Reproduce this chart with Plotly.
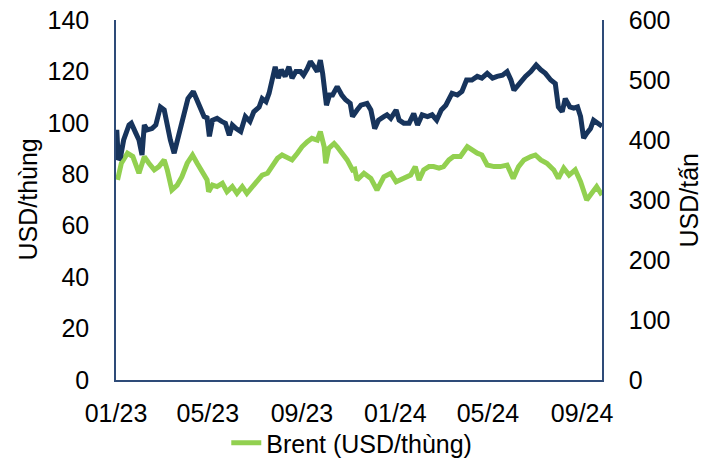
import plotly.graph_objects as go

# Right-axis series (USD/tấn)
navy_dates = [
    "2023-01-02", "2023-01-04", "2023-01-07", "2023-01-11", "2023-01-18", "2023-01-21", "2023-01-27", "2023-01-31",
    "2023-02-04", "2023-02-07", "2023-02-11", "2023-02-17", "2023-02-22", "2023-02-28", "2023-03-05", "2023-03-09",
    "2023-03-13", "2023-03-18", "2023-03-22", "2023-03-27", "2023-03-31", "2023-04-05", "2023-04-12", "2023-04-17",
    "2023-04-22", "2023-04-26", "2023-04-30", "2023-05-03", "2023-05-07", "2023-05-13", "2023-05-19", "2023-05-24",
    "2023-05-29", "2023-06-02", "2023-06-07", "2023-06-13", "2023-06-19", "2023-06-25", "2023-06-30", "2023-07-07",
    "2023-07-11", "2023-07-16", "2023-07-20", "2023-07-24", "2023-07-28", "2023-08-01", "2023-08-05", "2023-08-10",
    "2023-08-15", "2023-08-19", "2023-08-24", "2023-08-30", "2023-09-03", "2023-09-08", "2023-09-12", "2023-09-17",
    "2023-09-21", "2023-09-25", "2023-09-28", "2023-10-03", "2023-10-07", "2023-10-11", "2023-10-17", "2023-10-23",
    "2023-10-28", "2023-11-03", "2023-11-06", "2023-11-12", "2023-11-17", "2023-11-25", "2023-11-30", "2023-12-05",
    "2023-12-10", "2023-12-17", "2023-12-21", "2023-12-26", "2024-01-02", "2024-01-06", "2024-01-12", "2024-01-19",
    "2024-01-25", "2024-01-30", "2024-02-05", "2024-02-12", "2024-02-18", "2024-02-24", "2024-03-01", "2024-03-07",
    "2024-03-11", "2024-03-15", "2024-03-22", "2024-03-28", "2024-04-03", "2024-04-10", "2024-04-17", "2024-04-23",
    "2024-04-30", "2024-05-07", "2024-05-13", "2024-05-20", "2024-05-26", "2024-05-31", "2024-06-04", "2024-06-08",
    "2024-06-12", "2024-06-19", "2024-06-26", "2024-07-03", "2024-07-09", "2024-07-15", "2024-07-22", "2024-07-28",
    "2024-08-01", "2024-08-06", "2024-08-10", "2024-08-16", "2024-08-21", "2024-08-26", "2024-08-30", "2024-09-03",
    "2024-09-07", "2024-09-12", "2024-09-16", "2024-09-23", "2024-09-27",
]
navy_values = [
    417, 367, 372, 400, 425, 428, 411, 400,
    375, 425, 417, 419, 425, 455, 450, 422,
    400, 378, 400, 422, 450, 469, 481, 467,
    453, 439, 437, 406, 433, 436, 431, 428,
    408, 425, 419, 414, 439, 431, 447, 455,
    469, 464, 478, 500, 522, 503, 517, 506,
    522, 503, 514, 514, 508, 519, 531, 522,
    514, 533, 511, 458, 475, 475, 489, 475,
    467, 461, 439, 450, 458, 461, 450, 419,
    433, 439, 442, 436, 450, 433, 428, 428,
    444, 425, 442, 439, 442, 433, 450, 458,
    467, 478, 475, 481, 500, 500, 506, 503,
    511, 503, 506, 508, 514, 500, 483, 489,
    497, 506, 514, 525, 517, 511, 500, 494,
    455, 447, 469, 455, 453, 455, 439, 403,
    411, 419, 433, 428, 423,
]

# Brent (USD/thùng)
brent_dates = [
    "2023-01-03", "2023-01-08", "2023-01-16", "2023-01-23", "2023-01-31", "2023-02-07", "2023-02-13", "2023-02-20",
    "2023-02-26", "2023-03-05", "2023-03-09", "2023-03-15", "2023-03-22", "2023-03-28", "2023-04-04", "2023-04-11",
    "2023-04-17", "2023-04-24", "2023-04-30", "2023-05-02", "2023-05-07", "2023-05-13", "2023-05-20", "2023-05-26",
    "2023-06-02", "2023-06-08", "2023-06-15", "2023-06-21", "2023-06-28", "2023-07-04", "2023-07-11", "2023-07-18",
    "2023-07-24", "2023-07-31", "2023-08-06", "2023-08-13", "2023-08-19", "2023-08-26", "2023-09-01", "2023-09-08",
    "2023-09-14", "2023-09-21", "2023-09-25", "2023-09-30", "2023-10-02", "2023-10-06", "2023-10-13", "2023-10-17",
    "2023-10-23", "2023-10-30", "2023-11-06", "2023-11-09", "2023-11-12", "2023-11-21", "2023-11-30", "2023-12-08",
    "2023-12-17", "2023-12-26", "2024-01-02", "2024-01-08", "2024-01-14", "2024-01-21", "2024-01-27", "2024-02-01",
    "2024-02-07", "2024-02-14", "2024-02-20", "2024-02-27", "2024-03-04", "2024-03-11", "2024-03-17", "2024-03-26",
    "2024-04-04", "2024-04-10", "2024-04-17", "2024-04-23", "2024-04-30", "2024-05-09", "2024-05-17", "2024-05-26",
    "2024-06-03", "2024-06-10", "2024-06-17", "2024-06-26", "2024-07-02", "2024-07-09", "2024-07-17", "2024-07-26",
    "2024-08-01", "2024-08-08", "2024-08-15", "2024-08-23", "2024-08-30", "2024-09-07", "2024-09-14", "2024-09-20",
    "2024-09-27",
]
brent_values = [
    77.8, 84.3, 88.2, 86.9, 80.4, 86.8, 84.3, 81.7,
    83.0, 85.6, 81.7, 73.9, 75.8, 79.0, 84.3, 87.5,
    84.3, 80.4, 77.8, 73.2, 75.8, 75.2, 76.5, 73.2,
    75.2, 72.6, 75.2, 72.6, 75.2, 77.1, 79.7, 80.4,
    83.0, 86.2, 87.5, 86.2, 85.6, 88.2, 90.7, 92.7,
    94.0, 93.3, 96.6, 90.7, 84.3, 90.1, 92.0, 90.7,
    88.2, 85.6, 81.7, 82.0, 77.8, 80.4, 78.4, 73.9,
    79.0, 80.4, 77.1, 77.8, 79.0, 79.7, 83.0, 77.8,
    81.7, 83.0, 83.0, 82.4, 83.0, 85.6, 86.9, 86.9,
    90.7, 89.4, 88.2, 87.5, 83.6, 83.0, 83.0, 83.6,
    78.4, 83.0, 85.6, 86.9, 87.5, 85.6, 84.3, 81.7,
    78.4, 82.4, 79.7, 81.7, 77.1, 70.0, 73.2, 75.2,
    71.9,
]

x_tickvals = ["2023-01-01", "2023-05-01", "2023-09-01", "2024-01-01", "2024-05-01", "2024-09-01"]
x_ticktext = ["01/23", "05/23", "09/23", "01/24", "05/24", "09/24"]
left_ticks = [0, 20, 40, 60, 80, 100, 120, 140]
right_ticks = [0, 100, 200, 300, 400, 500, 600]

NAVY = "#17345C"
GREEN = "#92D050"
AXIS = "#2E4B78"
FONT = "Liberation Sans, Arial, sans-serif"
FS = 25

fig = go.Figure()
fig.add_trace(go.Scatter(
    x=navy_dates, y=navy_values, mode="lines", yaxis="y2",
    line=dict(color=NAVY, width=5), showlegend=False, name="USD/tấn",
))
fig.add_trace(go.Scatter(
    x=brent_dates, y=brent_values, mode="lines", yaxis="y",
    line=dict(color=GREEN, width=5), name="Brent (USD/thùng)",
))

fig.update_layout(
    width=715, height=462,
    margin=dict(l=116, r=113, t=20, b=82, autoexpand=False),
    paper_bgcolor="white", plot_bgcolor="white",
    font=dict(family=FONT, size=FS, color="#000000"),
    xaxis=dict(
        type="date", range=["2023-01-01", "2024-09-27"],
        tickvals=x_tickvals, ticktext=x_ticktext,
        showgrid=False, zeroline=False, automargin=False,
        showline=True, linecolor=AXIS, linewidth=1.5,
        ticks="outside", ticklen=10, tickcolor="rgba(0,0,0,0)",
        tickfont=dict(size=FS), ticklabeloverflow="allow",
    ),
    yaxis=dict(
        range=[0, 140], tickvals=left_ticks, automargin=False,
        showgrid=False, zeroline=False,
        showline=True, linecolor=AXIS, linewidth=1.5,
        ticks="outside", ticklen=20, tickcolor="rgba(0,0,0,0)",
        tickfont=dict(size=FS), ticklabeloverflow="allow",
    ),
    yaxis2=dict(
        range=[0, 600], tickvals=right_ticks, overlaying="y", side="right",
        showgrid=False, zeroline=False, automargin=False,
        showline=True, linecolor=AXIS, linewidth=1.5,
        ticks="outside", ticklen=20, tickcolor="rgba(0,0,0,0)",
        tickfont=dict(size=FS), ticklabeloverflow="allow",
    ),
    legend=dict(
        orientation="h", xref="container", yref="container",
        x=0.492, y=0.041, xanchor="center", yanchor="middle",
        font=dict(size=FS), bgcolor="rgba(0,0,0,0)",
    ),
    annotations=[
        dict(text="USD/thùng", textangle=-90, xref="paper", yref="paper",
             x=-0.182, y=0.5, xanchor="center", yanchor="middle",
             showarrow=False, font=dict(size=FS)),
        dict(text="USD/tấn", textangle=-90, xref="paper", yref="paper",
             x=1.18, y=0.5, xanchor="center", yanchor="middle",
             showarrow=False, font=dict(size=FS)),
    ],
)

fig.write_html(
    "out.html",
    config={"displayModeBar": False},
    post_script="document.body.style.margin='0';document.body.style.overflow='hidden';",
)
